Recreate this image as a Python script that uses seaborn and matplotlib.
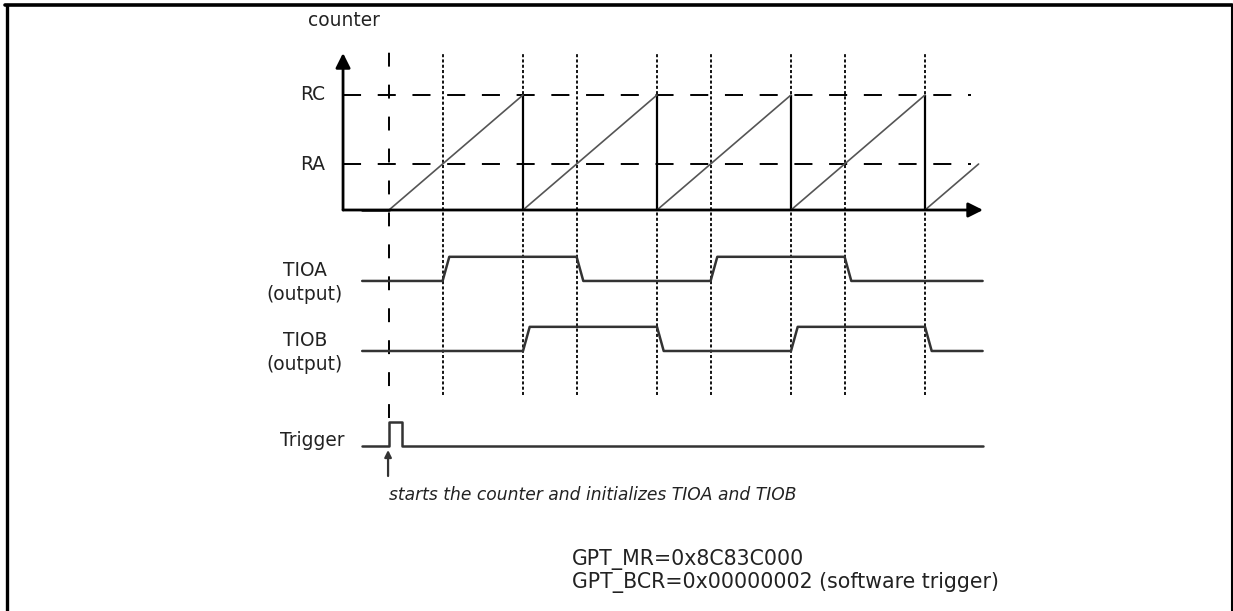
import matplotlib.pyplot as plt
from matplotlib.lines import Line2D
import seaborn as sns
import pandas as pd

sns.set_style('white')
plt.rcParams['font.family'] = ['DejaVu Sans']
plt.rcParams['lines.scale_dashes'] = False

# timing, one counter period = 1.0, trigger at t = 0
reset_times = [1, 2, 3, 4]          # counter hits RC -> TIOB toggles
ra_times = [0.4, 1.4, 2.4, 3.4]     # counter passes RA -> TIOA toggles
ra_level = 0.4
rc_level = 1.0
t_start = -0.2
t_end = 4.43
t_last_ramp = 4.4
trigger_pulse = [0.0, 0.1]
level_names = ['RC', 'RA']
lane_names = ['TIOA\n(output)', 'TIOB\n(output)', 'Trigger']
caption = 'starts the counter and initializes TIOA and TIOB'
register_lines = ['GPT_MR=0x8C83C000', 'GPT_BCR=0x00000002 (software trigger)']

# layout (data units, 1 unit = counter 0..RC)
lane_base = {'TIOA': -0.617, 'TIOB': -1.226, 'Trigger': -2.052}
lane_amp = 0.21
edge = 0.05
axis_x = -0.343


def wave(toggles, slope):
    pts = [(t_start, 0)]
    level = 0
    for t in toggles:
        pts.append((t, level))
        level = 1 - level
        pts.append((t + slope, level))
    pts.append((t_end, level))
    return pts


# counter ramps
ramp_rows = []
starts = [0] + reset_times
ends = reset_times + [t_last_ramp]
for i, (a, b) in enumerate(zip(starts, ends)):
    ramp_rows.append(dict(seg=i, t=a, v=0.0))
    ramp_rows.append(dict(seg=i, t=b, v=(b - a) * rc_level))
ramps = pd.DataFrame(ramp_rows)

# digital lanes
lane_rows = []
for name, pts in [('TIOA', wave(ra_times, edge)),
                  ('TIOB', wave(reset_times, edge)),
                  ('Trigger', wave(trigger_pulse, 0.0))]:
    for t, lv in pts:
        lane_rows.append(dict(lane=name, t=t, y=lane_base[name] + lv * lane_amp))
lanes = pd.DataFrame(lane_rows)

fig = plt.figure(figsize=(12.33, 6.11), dpi=100)
ax = fig.add_axes([0, 0, 1, 1])
ax.set_xlim(-389 / 134, (1233 - 389) / 134)
ax.set_ylim((210 - 611) / 115, 210 / 115)
ax.axis('off')

# grid / marker lines
ax.hlines([rc_level, ra_level], axis_x, 4.34, colors='black', lw=1.4,
          linestyles=(0, (13, 12)))
ax.vlines(sorted(ra_times + reset_times), -1.609, 1.374, colors='black',
          lw=1.3, linestyles=(0, (2.2, 1.6)))
ax.vlines([0], -1.809, 1.374, colors='black', lw=1.4,
          linestyles=(0, (10, 13)))
ax.vlines(reset_times, 0, rc_level, colors='black', lw=1.6)

# counter
ax.plot([t_start, 0], [0, 0], color='#333333', lw=2)
sns.lineplot(data=ramps, x='t', y='v', units='seg', estimator=None, sort=False,
             color='#555555', lw=1.2, ax=ax)

# axes with arrows
ax.annotate('', xy=(axis_x, 1.365), xytext=(axis_x, 0),
            arrowprops=dict(arrowstyle='-|>', mutation_scale=22, lw=2, color='black',
                            shrinkA=0, shrinkB=0))
ax.annotate('', xy=(4.433, 0), xytext=(axis_x, 0),
            arrowprops=dict(arrowstyle='-|>', mutation_scale=22, lw=2, color='black',
                            shrinkA=0, shrinkB=0))

sns.lineplot(data=lanes, x='t', y='y', units='lane', estimator=None, sort=False,
             color='#333333', lw=1.8, ax=ax)

# trigger arrow
ax.annotate('', xy=(-0.007, -2.087), xytext=(-0.007, -2.313),
            arrowprops=dict(arrowstyle='-|>', mutation_scale=10, lw=1.6, color='#333333',
                            shrinkA=0, shrinkB=0))

# labels
txt = dict(color='#222222', fontsize=13.4)
ax.text(axis_x + 0.01, 1.652, 'counter', ha='center', va='center', **txt)
for name, lv in zip(level_names, [rc_level, ra_level]):
    ax.text(-0.567, lv, name, ha='center', va='center', **txt)
for label, key in zip(lane_names, ['TIOA', 'TIOB', 'Trigger']):
    off = 0.05 if key == 'Trigger' else -0.015
    ax.text(-0.627 if key != 'Trigger' else -0.575, lane_base[key] + off, label,
            ha='center', va='center', multialignment='center', linespacing=1.35, **txt)
ax.text(0.0, -2.478, caption, ha='left', va='center', style='italic',
        color='#222222', fontsize=12.3)
for i, line in enumerate(register_lines):
    ax.text(1.366, -3.043 - 0.2 * i, line, ha='left', va='center',
            color='#222222', fontsize=14.8)

# page frame
fig.add_artist(Line2D([6.5 / 1233, 6.5 / 1233], [0, 1 - 4.5 / 611], color='black', lw=2.4))
fig.add_artist(Line2D([5 / 1233, 1232 / 1233], [1 - 4.5 / 611, 1 - 4.5 / 611],
                      color='black', lw=2.6))
fig.add_artist(Line2D([1231.5 / 1233, 1231.5 / 1233], [0, 1 - 4.5 / 611],
                      color='black', lw=1.5))

fig.savefig('out.png', dpi=100)
